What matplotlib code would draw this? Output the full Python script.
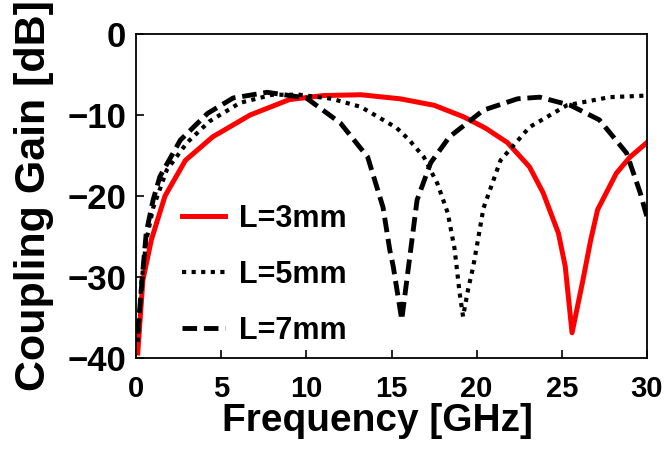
import matplotlib.pyplot as plt

plt.rcParams['font.family'] = ['Liberation Sans', 'DejaVu Sans']
plt.rcParams['font.weight'] = 'bold'

# L=3mm
f_3mm = [0.1, 0.4, 0.9, 1.7, 2.9, 4.5, 6.7, 9.0, 11.0, 13.2, 15.5, 17.5, 19.2,
         20.5, 21.8, 23.1, 23.9, 24.8, 25.2, 25.6, 26.2, 26.7, 27.1, 28.2, 29.0, 30.0]
g_3mm = [-39.4, -30.4, -25.4, -20.0, -15.6, -12.7, -10.0, -8.1, -7.6, -7.5, -8.0, -8.8, -10.2,
         -11.6, -13.4, -16.4, -19.6, -24.6, -28.7, -36.9, -30.8, -25.4, -21.7, -17.2, -15.2, -13.4]

# L=5mm
f_5mm = [0.1, 0.3, 0.6, 1.0, 1.8, 3.0, 4.3, 6.1, 8.0, 9.6, 11.5, 13.2, 14.5, 15.3, 16.0,
         16.9, 17.7, 18.3, 18.7, 19.0, 19.2, 19.5, 19.8, 20.4, 21.4, 23.1, 25.3, 27.8, 30.0]
g_5mm = [-38.0, -31.0, -25.5, -21.5, -16.8, -13.4, -10.8, -8.5, -7.5, -7.5, -8.0, -9.0, -10.6, -11.6, -13.0,
         -15.2, -18.5, -22.1, -26.5, -32.0, -34.9, -31.5, -28.7, -21.5, -15.6, -11.5, -8.8, -7.8, -7.6]

# L=7mm
f_7mm = [0.1, 0.35, 0.6, 1.0, 1.4, 2.6, 4.2, 5.7, 7.7, 10.0, 12.0, 13.6, 14.5, 14.9, 15.1,
         15.6, 16.0, 16.5, 17.3, 18.4, 20.4, 22.4, 23.7, 25.5, 27.2, 28.8, 29.6, 30.0]
g_7mm = [-37.0, -30.4, -24.5, -20.5, -17.6, -13.1, -9.8, -7.9, -7.2, -7.9, -11.0, -15.2, -21.4, -26.7, -28.7,
         -35.3, -28.7, -20.5, -15.9, -12.7, -9.4, -8.0, -7.8, -8.8, -10.6, -14.7, -19.6, -22.6]

x_ticks = [0, 5, 10, 15, 20, 25, 30]
y_ticks = [0, -10, -20, -30, -40]

fig = plt.figure(figsize=(6.67, 4.66), dpi=100)
ax = fig.add_axes([0.204, 0.232, 0.766, 0.695])

ax.plot(f_3mm, g_3mm, color='#ff0000', lw=3.6, label='L=3mm', solid_joinstyle='round')
ax.plot(f_5mm, g_5mm, color='black', lw=3.0, dashes=(1, 1.3), label='L=5mm')
ax.plot(f_7mm, g_7mm, color='black', lw=3.5, dashes=(3, 1.4), label='L=7mm')

ax.set_xlim(0, 30)
ax.set_ylim(-40, 0)
ax.set_xticks(x_ticks)
ax.set_yticks(y_ticks)
ax.tick_params(direction='in', length=6, width=1.2, top=False, right=False)
ax.tick_params(axis='x', pad=12, labelsize=21)
ax.tick_params(axis='y', pad=7, labelsize=25)
for s in ax.spines.values():
    s.set_linewidth(1.3)

# 坐标轴标签
ax.set_xlabel('Frequency [GHz]', fontsize=28, fontweight='bold', va='top')
ax.xaxis.set_label_coords(0.472, -0.14)
ax.set_ylabel('Coupling Gain [dB]', fontsize=31, fontweight='bold', va='center')
ax.yaxis.set_label_coords(-0.2, 0.5)

leg = ax.legend(loc='upper left', bbox_to_anchor=(0.09, 0.475), frameon=False,
                fontsize=22, handlelength=1.4, handletextpad=0.45,
                labelspacing=0.85, borderpad=0, borderaxespad=0)

fig.savefig('out.png', dpi=100)
